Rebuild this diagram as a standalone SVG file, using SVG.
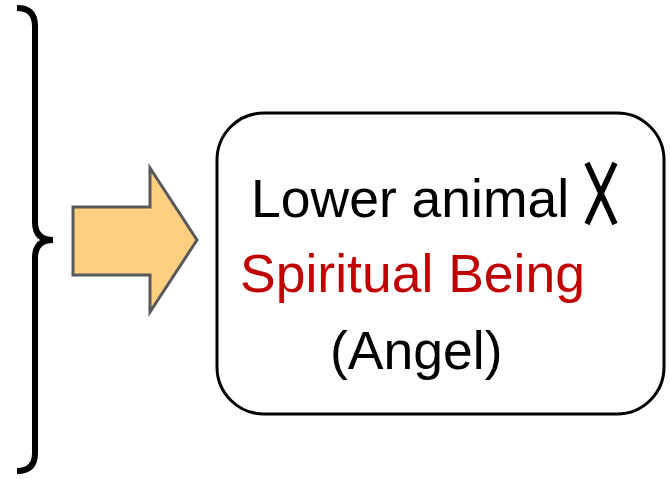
<svg xmlns="http://www.w3.org/2000/svg" width="670" height="479" viewBox="0 0 670 479">
<style>
.t{font-family:"Liberation Sans",Arial,sans-serif;font-size:53.5px}
</style>
<rect width="670" height="479" fill="#fff"/>
<g id="brace">
<path d="M17,8 Q35,8 35,26 L35,222 Q35,240 53,240 Q35,240 35,258 L35,453 Q35,471 17,471" fill="none" stroke="#000" stroke-width="6"/>
</g>
<g id="arrow">
<polygon points="73,207 150,207 150,168 197,240 150,312 150,275 73,275" fill="#FFCF81" stroke="#595959" stroke-width="3"/>
</g>
<g id="box">
<rect x="217" y="113" width="447" height="301" rx="47" ry="47" fill="#fff" stroke="#000" stroke-width="3"/>
<text class="t" x="251" y="217">Lower animal</text>
<g stroke="#000" stroke-width="5.5">
<line x1="587" y1="163" x2="615" y2="224"/>
<line x1="615" y1="163" x2="587" y2="224"/>
</g>
<text class="t" x="240" y="292" fill="#C00000">Spiritual Being</text>
<text class="t" x="330" y="369">(Angel)</text>
</g>
<g id="connectors"></g>
</svg>
